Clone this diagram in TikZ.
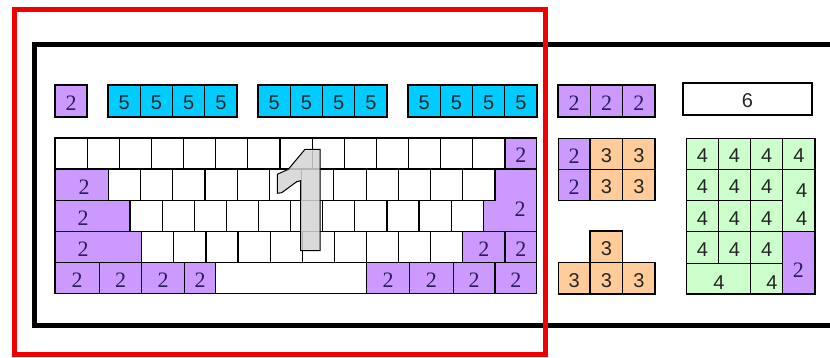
\documentclass[tikz,border=0pt]{standalone}
\usepackage{fontspec}
\setmainfont{Liberation Serif}
\newfontfamily\sansdig{Liberation Sans}
\newcounter{kc}
\definecolor{kpurple}{HTML}{CC99FF}
\definecolor{kblue}{HTML}{00CCFF}
\definecolor{korange}{HTML}{FFCC99}
\definecolor{kgreen}{HTML}{CCFFCC}
\definecolor{ktext}{HTML}{2A1E5C}
\definecolor{kred}{HTML}{F00000}
\newcommand\kbx[7][lbl]{\stepcounter{kc}\draw[#2] ({#3},{#4}) rectangle ({#5},{#6});\node[#1] (k\arabic{kc}) at ({((#3)+(#5))/2},{((#4)+(#6))/2+2}) {#7};}
\tikzset{
  key/.style={draw=black,line width=1.2pt},
  wk/.style={key,fill=white},
  pk/.style={key,fill=kpurple},
  bk/.style={key,fill=kblue},
  ok/.style={key,fill=korange},
  gk/.style={key,fill=kgreen},
  lbl/.style={inner sep=0pt,font=\fontsize{22}{22}\selectfont,text=ktext},
  lbs/.style={inner sep=0pt,font=\sansdig\fontsize{20}{20}\selectfont,text=black!85},
  onefig/.style={draw=black,line width=1pt,fill=black!17,fill opacity=0.85},
}
\begin{document}
\begin{tikzpicture}[x=1pt,y=-1pt]
\path[use as bounding box,clip] (0,0) rectangle (830,358);
\fill[white] (0,0) rectangle (830,358);
% case
\draw[line width=5pt,black] (34.5,45) rectangle (860,325.5);
% top row
\kbx{pk}{55}{85}{87}{117}{2}
\foreach \g in {108,258,408}{
  \foreach \i in {0,...,3}{
    \kbx[lbs]{bk}{\g+\i*32.25}{85}{\g+(\i+1)*32.25}{117}{5}
  }
}
\foreach \i in {0,...,2}{
  \kbx{pk}{558+\i*32.33}{85}{558+(\i+1)*32.33}{117}{2}
}
\kbx[lbs]{key,line width=1.5pt,fill=white}{683}{83}{812}{115}{6}
% row 1
\foreach \i in {0,...,13}{\draw[wk] ({55+\i*32.143},138) rectangle ({55+(\i+1)*32.143},169);}
\kbx{pk}{505}{138}{536.7}{169}{2}
% row 2
\draw[pk] (55,169) rectangle (108.3,200.5);
\node[lbl] (tab) at (84,187) {2};
\foreach \i in {0,...,11}{\draw[wk] ({108.3+\i*32.225},169) rectangle ({108.3+(\i+1)*32.225},200.5);}
% row 3
\draw[pk] (55,200.5) rectangle (130,231.5);
\node[lbl] (caps) at (83,218) {2};
\foreach \i in {0,...,10}{\draw[wk] ({130+\i*32.118},200.5) rectangle ({130+(\i+1)*32.118},231.5);}
% enter
\draw[pk] (495,169) -- (536.7,169) -- (536.7,231.5) -- (483.3,231.5) -- (483.3,200.5) -- (495,200.5) -- cycle;
\node[lbl] (enter) at (520,209) {2};
% row 4
\draw[pk] (55,231.5) rectangle (141.7,262.5);
\node[lbl] (lshift) at (83,249) {2};
\foreach \i in {0,...,9}{\draw[wk] ({141.7+\i*32.1},231.5) rectangle ({141.7+(\i+1)*32.1},262.5);}
\kbx{pk}{462.7}{231.5}{505}{262.5}{2}
\kbx{pk}{505}{231.5}{536.7}{262.5}{2}
% row 5
\kbx{pk}{55}{262.5}{99.3}{293.5}{2}
\kbx{pk}{99.3}{262.5}{141.7}{293.5}{2}
\kbx{pk}{141.7}{262.5}{184.3}{293.5}{2}
\kbx{pk}{184.3}{262.5}{215.7}{293.5}{2}
\draw[wk] (215.7,262.5) rectangle (366.7,293.5);
\kbx{pk}{366.7}{262.5}{409.3}{293.5}{2}
\kbx{pk}{409.3}{262.5}{453.3}{293.5}{2}
\kbx{pk}{453.3}{262.5}{495}{293.5}{2}
\kbx{pk}{495}{262.5}{536.7}{293.5}{2}
% big 1
\draw[onefig] (320,149.3) -- (305,149.3) -- (288.3,169.3) -- (277.3,174.3) -- (277.3,193.3) -- (281.7,192.7) -- (296.7,181.7) -- (300.7,180.7) -- (300.7,250.7) -- (320,250.7) -- cycle;
% middle block
\kbx{pk}{558.3}{138.3}{590}{169.3}{2}
\kbx[lbs]{ok}{590}{138.3}{622.7}{169.3}{3}
\kbx[lbs]{ok}{622.7}{138.3}{655}{169.3}{3}
\kbx{pk}{558.3}{169.3}{590}{200.7}{2}
\kbx[lbs]{ok}{590}{169.3}{622.7}{200.7}{3}
\kbx[lbs]{ok}{622.7}{169.3}{655}{200.7}{3}
% arrows
\kbx[lbs]{ok}{590}{231}{622.7}{262.7}{3}
\kbx[lbs]{ok}{558.3}{262.7}{590}{294}{3}
\kbx[lbs]{ok}{590}{262.7}{622.7}{294}{3}
\kbx[lbs]{ok}{622.7}{262.7}{655}{294}{3}
% numpad
\kbx[lbs]{gk}{686.7}{138.3}{718.3}{169.3}{4}
\kbx[lbs]{gk}{718.3}{138.3}{750.7}{169.3}{4}
\kbx[lbs]{gk}{750.7}{138.3}{782.7}{169.3}{4}
\kbx[lbs]{gk}{782.7}{138.3}{815}{169.3}{4}
\kbx[lbs]{gk}{686.7}{169.3}{718.3}{200.7}{4}
\kbx[lbs]{gk}{718.3}{169.3}{750.7}{200.7}{4}
\kbx[lbs]{gk}{750.7}{169.3}{782.7}{200.7}{4}
\kbx[lbs]{gk}{686.7}{200.7}{718.3}{231.7}{4}
\kbx[lbs]{gk}{718.3}{200.7}{750.7}{231.7}{4}
\kbx[lbs]{gk}{750.7}{200.7}{782.7}{231.7}{4}
\draw[gk] (782.7,169.3) rectangle (815,231.7);
\node[lbs] (plusa) at (801.7,191) {4};
\node[lbs] (plusb) at (801.7,218.5) {4};
\kbx[lbs]{gk}{686.7}{231.7}{718.3}{263.3}{4}
\kbx[lbs]{gk}{718.3}{231.7}{750.7}{263.3}{4}
\kbx[lbs]{gk}{750.7}{231.7}{782.7}{263.3}{4}
\draw[pk] (782.7,231.7) rectangle (815,294);
\node[lbl] (npenter) at (798.3,270) {2};
\draw[gk] (686.7,263.3) rectangle (750.7,294);
\node[lbs] (npzero) at (719,283) {4};
\draw[gk] (750.7,263.3) rectangle (782.7,294);
\node[lbs] (npdel) at (772,283) {4};
% red frame
\draw[line width=5pt,kred] (14,9.5) rectangle (545.5,354.5);
\end{tikzpicture}
\end{document}
